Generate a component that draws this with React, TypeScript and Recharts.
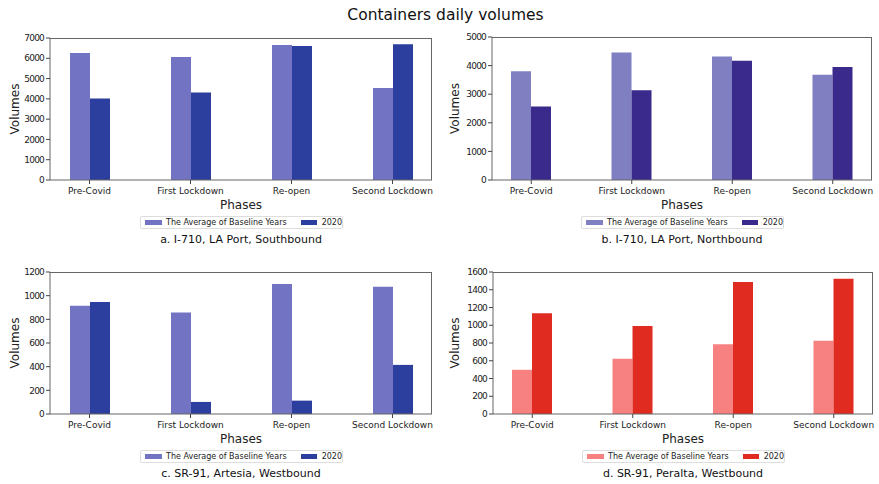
import { BarChart, Bar, XAxis, YAxis } from 'recharts'

const phases = ['Pre-Covid', 'First Lockdown', 'Re-open', 'Second Lockdown']

const southBaseline = [6260, 6060, 6660, 4530]
const south2020 = [4020, 4310, 6600, 6690]
const southTicks = [0, 1000, 2000, 3000, 4000, 5000, 6000, 7000]

const northBaseline = [3800, 4460, 4320, 3680]
const north2020 = [2570, 3140, 4170, 3950]
const northTicks = [0, 1000, 2000, 3000, 4000, 5000]

const artesiaBaseline = [915, 858, 1098, 1076]
const artesia2020 = [946, 102, 113, 415]
const artesiaTicks = [0, 200, 400, 600, 800, 1000, 1200]

const peraltaBaseline = [498, 623, 785, 826]
const peralta2020 = [1136, 992, 1487, 1525]
const peraltaTicks = [0, 200, 400, 600, 800, 1000, 1200, 1400, 1600]

const font = 'DejaVu Sans, sans-serif'
const frame = '#666'
const plotBottom = 180

type PanelProps = {
  left: number
  top: number
  width: number
  yWidth: number
  marginTop: number
  marginRight: number
  baseline: number[]
  current: number[]
  ticks: number[]
  colors: [string, string]
  caption: string
}

function Panel({ left, top, width, yWidth, marginTop, marginRight, baseline, current, ticks, colors, caption }: PanelProps) {
  const data = phases.map((phase, i) => ({ phase, base: baseline[i], cur: current[i] }))
  const plotWidth = width - yWidth - marginRight
  const plotCenter = yWidth + plotWidth / 2
  const tickStyle = { fontSize: 9, fill: '#222', fontFamily: font }

  return (
    <div style={{ position: 'absolute', left, top, width, height: 250 }}>
      <BarChart
        width={width}
        height={plotBottom + 50}
        data={data}
        barGap={0}
        margin={{ top: marginTop, right: marginRight, left: 0, bottom: 0 }}
      >
        <XAxis
          dataKey="phase"
          interval={0}
          height={50}
          padding={{ left: -11, right: -11 }}
          tick={tickStyle}
          tickSize={4}
          tickMargin={4}
          axisLine={{ stroke: frame }}
          tickLine={{ stroke: '#444' }}
          label={{ value: 'Phases', position: 'insideBottom', offset: 21, fontSize: 12, fill: '#222', fontFamily: font }}
        />
        <YAxis
          width={yWidth}
          domain={[0, ticks[ticks.length - 1]]}
          ticks={ticks}
          interval={0}
          tick={{ ...tickStyle, letterSpacing: -0.8 }}
          tickSize={4}
          tickMargin={2}
          axisLine={{ stroke: frame }}
          tickLine={{ stroke: '#444' }}
          label={{
            value: 'Volumes',
            angle: -90,
            position: 'insideLeft',
            offset: 15,
            fontSize: 12,
            fill: '#222',
            fontFamily: font,
            textAnchor: 'middle',
            style: { textAnchor: 'middle' },
          }}
        />
        <Bar dataKey="base" fill={colors[0]} barSize={20} isAnimationActive={false} />
        <Bar dataKey="cur" fill={colors[1]} barSize={20} isAnimationActive={false} />
      </BarChart>
      {/* top and right spines of the axes box */}
      <div
        style={{
          position: 'absolute',
          left: yWidth,
          top: marginTop,
          width: plotWidth,
          height: plotBottom - marginTop,
          borderTop: `1px solid ${frame}`,
          borderRight: `1px solid ${frame}`,
          boxSizing: 'border-box',
          pointerEvents: 'none',
        }}
      />
      <div
        style={{
          position: 'absolute',
          left: plotCenter - 101,
          top: 216,
          width: 203,
          height: 13,
          border: '1px solid #ddd',
          borderRadius: 2,
          display: 'flex',
          alignItems: 'center',
          fontFamily: font,
          fontSize: 8,
          color: '#222',
          boxSizing: 'border-box',
          paddingLeft: 4,
          whiteSpace: 'nowrap',
        }}
      >
        <span style={{ width: 17, height: 5, background: colors[0], marginRight: 4, flex: 'none' }} />
        <span>The Average of Baseline Years</span>
        <span style={{ width: 16, height: 5, background: colors[1], marginLeft: 14, marginRight: 5, flex: 'none' }} />
        <span>2020</span>
      </div>
      <div
        style={{
          position: 'absolute',
          left: plotCenter - 150,
          width: 300,
          top: 232,
          textAlign: 'center',
          fontFamily: font,
          fontSize: 11,
          color: '#111',
          lineHeight: '16px',
        }}
      >
        {caption}
      </div>
    </div>
  )
}

export default function App() {
  return (
    <div style={{ position: 'relative', width: 879, height: 484, background: '#fff', overflow: 'hidden' }}>
      <style>{'body{margin:0;overflow:hidden}'}</style>
      <div
        style={{
          position: 'absolute',
          left: 0,
          width: 879,
          top: 5,
          paddingLeft: 12,
          boxSizing: 'border-box',
          textAlign: 'center',
          fontFamily: font,
          fontSize: 15.5,
          color: '#111',
          lineHeight: '20px',
        }}
      >
        Containers daily volumes
      </div>
      <Panel left={0} top={0} width={440} yWidth={50} marginTop={38} marginRight={8}
        baseline={southBaseline} current={south2020} ticks={southTicks}
        colors={['#7373c4', '#2c3f9f']} caption="a. I-710, LA Port, Southbound" />
      <Panel left={440} top={0} width={439} yWidth={52} marginTop={37} marginRight={7}
        baseline={northBaseline} current={north2020} ticks={northTicks}
        colors={['#7f7fc2', '#3a2a8c']} caption="b. I-710, LA Port, Northbound" />
      <Panel left={0} top={234} width={440} yWidth={50} marginTop={38} marginRight={8}
        baseline={artesiaBaseline} current={artesia2020} ticks={artesiaTicks}
        colors={['#7373c4', '#2c3f9f']} caption="c. SR-91, Artesia, Westbound" />
      <Panel left={440} top={234} width={439} yWidth={53} marginTop={38} marginRight={6}
        baseline={peraltaBaseline} current={peralta2020} ticks={peraltaTicks}
        colors={['#f78080', '#e02b20']} caption="d. SR-91, Peralta, Westbound" />
    </div>
  )
}
